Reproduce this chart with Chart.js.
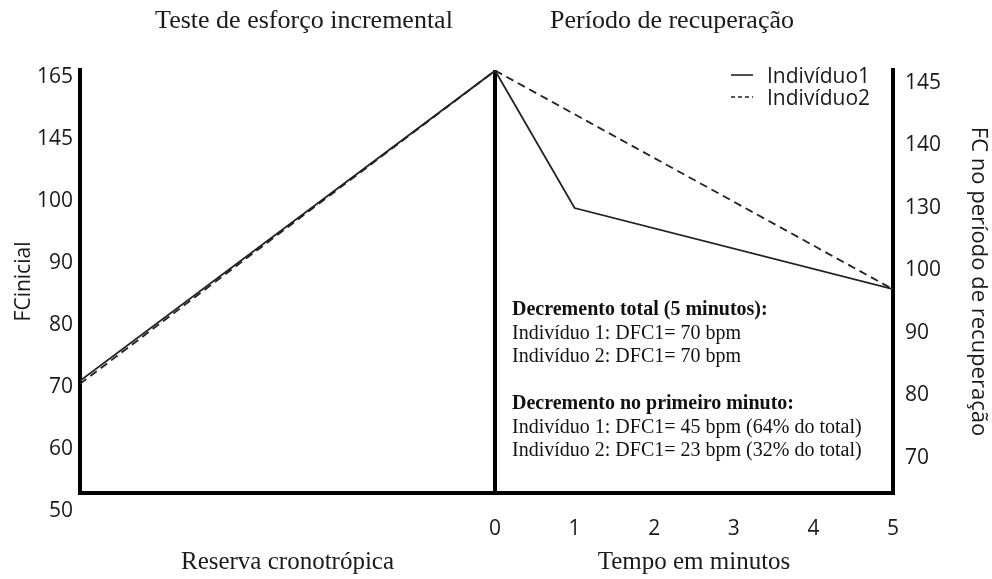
<!DOCTYPE html>
<html>
<head>
<meta charset="utf-8">
<script src="https://cdn.jsdelivr.net/npm/chart.js@4.4.1/dist/chart.umd.min.js"></script>
<style>
  html, body { margin: 0; padding: 0; background: #fff; }
  #wrap { position: relative; width: 992px; height: 579px; }
  #legend { position: absolute; left: 731px; top: 64px; font-family: "Open Sans"; font-size: 21px; line-height: 22px; color: #1a1a1a; }
  #legend .row { display: flex; align-items: center; height: 22px; }
  #legend svg { margin-right: 14px; }
  #notes { position: absolute; left: 512px; top: 297px; font-family: "Liberation Serif"; font-size: 20px; line-height: 23.5px; color: #111; white-space: nowrap; }
  #notes b { font-weight: bold; }
</style>
</head>
<body>
<div id="wrap">
  <canvas id="chart"></canvas>
  <div id="legend"></div>
  <div id="notes"></div>
</div>
<script>
// tick labels as printed on the two vertical axes (evenly spaced, not proportional)
const leftTickLabels = [50, 60, 70, 80, 90, 100, 145, 165];
const rightTickLabels = [70, 80, 90, 100, 130, 140, 145];
const minuteTicks = [0, 1, 2, 3, 4, 5];

const seriesNames = ["Indivíduo1", "Indivíduo2"];

// Teste de esforço incremental (x = % da reserva cronotrópica, y = FC bpm)
const reservePct = [0, 100];
const ind1Effort = [71, 167];
const ind2Effort = [70.5, 167];

// Período de recuperação (x = minutos, y = FC bpm)
const ind1Minutes = [0, 1, 5];
const ind1Recovery = [146, 130, 97];
const ind2Minutes = [0, 5];
const ind2Recovery = [146, 97];

const noteLines = [
    ["b", "Decremento total (5 minutos):"],
    ["", "Indivíduo 1: DFC1= 70 bpm"],
    ["", "Indivíduo 2: DFC1= 70 bpm"],
    ["", ""],
    ["b", "Decremento no primeiro minuto:"],
    ["", "Indivíduo 1: DFC1= 45 bpm (64% do total)"],
    ["", "Indivíduo 2: DFC1= 23 bpm (32% do total)"]
];

// position of a bpm value on an axis whose ticks are evenly spaced
function toIdx(labels, v) {
    for (let i = 0; i < labels.length - 1; i++) {
        if (v <= labels[i + 1] || i === labels.length - 2) {
            return i + (v - labels[i]) / (labels[i + 1] - labels[i]);
        }
    }
}

function points(xs, ys, labels) {
    return xs.map((x, i) => ({ x: x, y: toIdx(labels, ys[i]) }));
}

const lineColor = "#222";
const dash = [8, 5];
const sans = "Open Sans";
const serif = "Liberation Serif";
const textColor = "#1a1a1a";

Chart.defaults.font.family = sans;
Chart.defaults.color = textColor;

const datasets = [
    { label: seriesNames[0], data: points(reservePct, ind1Effort, leftTickLabels), xAxisID: "xL", yAxisID: "yL", borderDash: [] },
    { label: seriesNames[1], data: points(reservePct, ind2Effort, leftTickLabels), xAxisID: "xL", yAxisID: "yL", borderDash: dash },
    { label: seriesNames[0], data: points(ind1Minutes, ind1Recovery, rightTickLabels), xAxisID: "xR", yAxisID: "yR", borderDash: [] },
    { label: seriesNames[1], data: points(ind2Minutes, ind2Recovery, rightTickLabels), xAxisID: "xR", yAxisID: "yR", borderDash: dash }
].map(d => Object.assign(d, {
    borderColor: lineColor,
    borderWidth: 1.8,
    pointRadius: 0,
    tension: 0,
    fill: false
}));

const noGrid = { display: false, drawTicks: false };
const axisBorder = { display: true, width: 4, color: "#000" };

function topTitle(weight, text) {
    return {
        type: "linear", axis: "x", position: "top", stack: "top", stackWeight: weight,
        ticks: { display: false }, grid: noGrid, border: { display: false },
        title: { display: !!text, text: text, color: textColor, font: { family: serif, size: 26 }, padding: { top: 6, bottom: 0 } },
        afterFit: s => { s.height = 70; }
    };
}

new Chart(document.getElementById("chart"), {
    type: "line",
    data: { datasets },
    options: {
        responsive: true,
        maintainAspectRatio: false,
        animation: false,
        plugins: { legend: { display: false }, tooltip: { enabled: false } },
        layout: { padding: 0 },
        scales: {
            xL: {
                type: "linear", position: "bottom", stack: "bottom", stackWeight: 415,
                min: 0, max: 100,
                ticks: { display: false },
                grid: noGrid,
                border: axisBorder,
                title: { display: true, text: "Reserva cronotrópica", color: textColor, font: { family: serif, size: 25 }, padding: { top: 0, bottom: 2 } },
                afterFit: s => { s.height = 86; }
            },
            xR: {
                type: "linear", position: "bottom", stack: "bottom", stackWeight: 398,
                min: 0, max: 5,
                afterBuildTicks: s => { s.ticks = minuteTicks.map(v => ({ value: v })); },
                ticks: { font: { size: 21 }, padding: 23, maxRotation: 0 },
                grid: {
                    display: true, drawTicks: false, lineWidth: 4,
                    color: c => (c.tick && c.tick.value === 0) ? "#000" : "rgba(0,0,0,0)"
                },
                border: axisBorder,
                title: { display: true, text: "Tempo em minutos", color: textColor, font: { family: serif, size: 25 }, padding: { top: 0, bottom: 2 } },
                afterFit: s => { s.height = 86; }
            },
            // top boxes are laid out right-to-left, so list them in reverse
            topPad: topTitle(77, ""),
            topR: topTitle(288, "Período de recuperação"),
            topL: topTitle(448, "Teste de esforço incremental"),
            yL: {
                type: "linear", position: "left",
                min: 0.29, max: 7.113,
                afterBuildTicks: s => { s.ticks = leftTickLabels.map((v, i) => ({ value: i })); },
                ticks: { font: { size: 21 }, padding: 7, callback: v => leftTickLabels[v] },
                grid: noGrid,
                border: axisBorder,
                title: { display: true, text: "FCinicial", color: textColor, font: { size: 21 }, padding: { top: 11, bottom: 0 } },
                afterFit: s => { s.width = 80; }
            },
            yR: {
                type: "linear", position: "right",
                min: -0.56, max: 6.208,
                afterBuildTicks: s => { s.ticks = rightTickLabels.map((v, i) => ({ value: i })); },
                ticks: { font: { size: 21 }, padding: 12, callback: v => rightTickLabels[v] },
                grid: noGrid,
                border: axisBorder,
                title: { display: true, text: "FC no período de recuperação", color: textColor, font: { size: 22 }, padding: { top: 1, bottom: 0 } },
                afterFit: s => { s.width = 99; }
            }
        }
    }
});

// legend (solid / dashed sample + name)
const legendEl = document.getElementById("legend");
seriesNames.forEach((name, i) => {
    const row = document.createElement("div");
    row.className = "row";
    const dashAttr = i === 1 ? ' stroke-dasharray="4 3"' : "";
    row.innerHTML = `<svg width="22" height="4"><line x1="0" y1="2" x2="22" y2="2" stroke="${lineColor}" stroke-width="1.6"${dashAttr}/></svg><span>${name}</span>`;
    legendEl.appendChild(row);
});

// text box with the decrement summary
const notesEl = document.getElementById("notes");
noteLines.forEach(([style, text]) => {
    const line = document.createElement("div");
    line.innerHTML = style === "b" ? `<b>${text}</b>` : (text || "&nbsp;");
    notesEl.appendChild(line);
});
</script>
</body>
</html>
